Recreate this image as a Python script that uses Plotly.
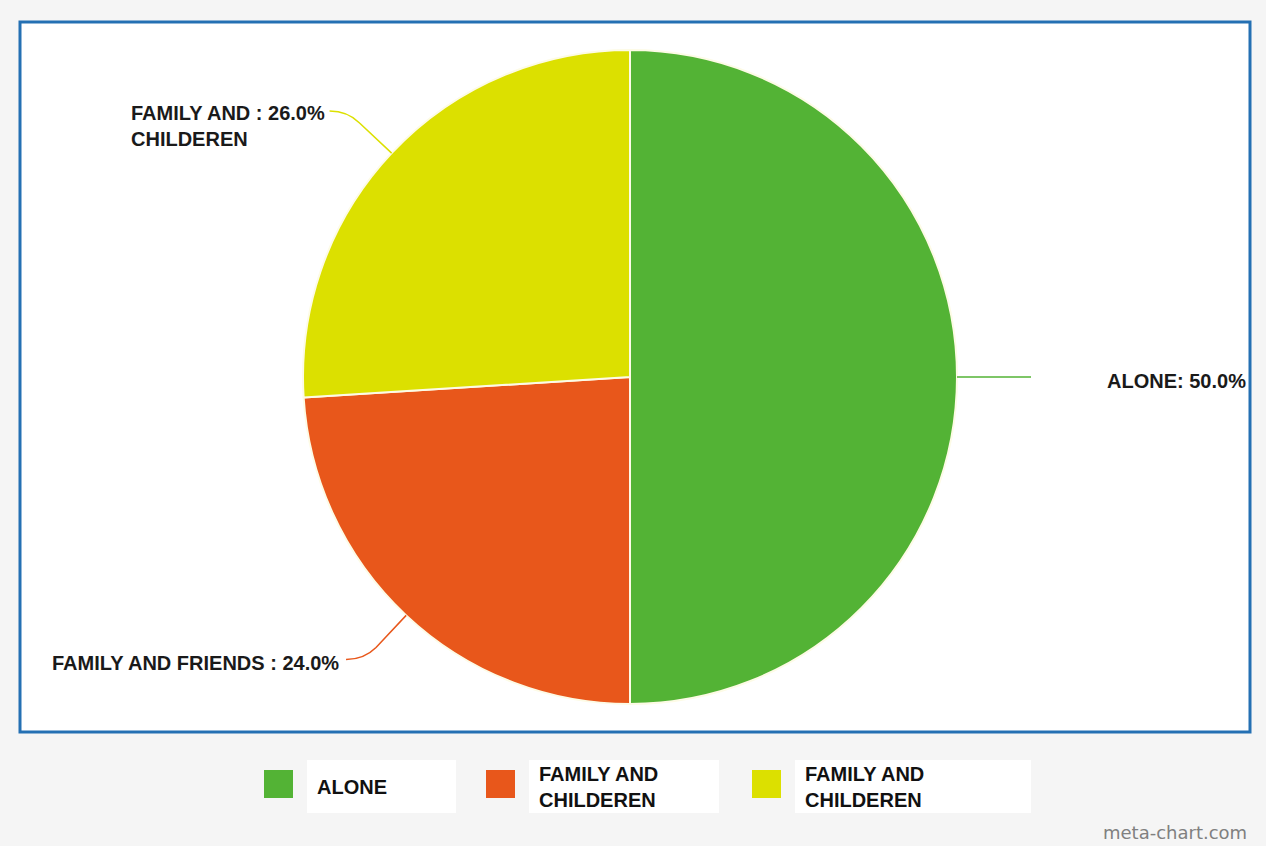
import math
import plotly.graph_objects as go

# Slice data (clockwise from 12 o'clock)
labels = ["ALONE", "FAMILY AND FRIENDS", "FAMILY AND<br>CHILDEREN"]
values = [50.0, 24.0, 26.0]
colors = ["#53b335", "#e8571b", "#dce000"]
legend_labels = ["ALONE", "FAMILY AND<br>CHILDEREN", "FAMILY AND<br>CHILDEREN"]

W, H = 1266, 846
CX, CY, R = 630, 377, 327          # pie centre and radius in pixels


def px(x):
    return x / W


def py(y):
    return 1 - y / H


fig = go.Figure()
fig.add_trace(go.Pie(
    labels=labels,
    values=values,
    marker=dict(colors=colors, line=dict(color="#fdfbe6", width=2)),
    sort=False,
    direction="clockwise",
    rotation=0,
    textinfo="none",
    hoverinfo="label+percent",
    showlegend=False,
    domain=dict(x=[px(CX - R), px(CX + R)], y=[py(CY + R), py(CY - R)]),
))

shapes = [
    # white chart panel with blue frame
    dict(type="rect", xref="paper", yref="paper", layer="below",
         x0=px(20), x1=px(1250), y0=py(732), y1=py(22),
         fillcolor="white", line=dict(color="#2470b3", width=3)),
]
annotations = []

# leader lines and outside labels, placed from each slice's mid-angle
total = sum(values)
label_gap = [74, 5, 3]
cum = 0.0
for i, v in enumerate(values):
    mid = (cum + v / 2) / total * 2 * math.pi
    cum += v
    dx, dy = math.sin(mid), -math.cos(mid)
    ex, ey = CX + R * dx, CY + R * dy
    bx, by = ex + 44 * dx, ey + 44 * dy
    side = 1 if dx >= 0 else -1
    vdir = 0 if abs(dy) < 1e-6 else (1 if dy > 0 else -1)
    tx, ty = bx + side * 30, by + vdir * 12
    path = (f"M {px(ex)},{py(ey)} L {px(bx)},{py(by)} "
            f"Q {px(bx + side * 12)},{py(ty)} {px(tx)},{py(ty)}")
    shapes.append(dict(type="path", xref="paper", yref="paper", path=path,
                       line=dict(color=colors[i], width=1.5)))
    if i == 0:
        text = f"{labels[i]}: {v:.1f}%"
    elif "<br>" in labels[i]:
        text = labels[i].replace("<br>", f" : {v:.1f}%<br>", 1)
    else:
        text = f"{labels[i]} : {v:.1f}%"
    multi = "<br>" in text
    annotations.append(dict(
        x=px(tx + side * label_gap[i]), y=py(ty - 11 if multi else ty + 4),
        xref="paper", yref="paper", text=f"<b>{text}</b>", showarrow=False,
        xanchor="left" if side > 0 else "right",
        yanchor="top" if multi else "middle", align="left",
        font=dict(family="Liberation Sans", size=20, color="#1a1a1a"),
    ))

# legend drawn below the panel
leg_x = [264, 486, 752]
box_w = [149, 190, 236]
for i, lab in enumerate(legend_labels):
    x0 = leg_x[i]
    shapes.append(dict(type="rect", xref="paper", yref="paper",
                       x0=px(x0 + 43), x1=px(x0 + 43 + box_w[i]),
                       y0=py(813), y1=py(760),
                       fillcolor="white", line=dict(width=0)))
    shapes.append(dict(type="rect", xref="paper", yref="paper",
                       x0=px(x0), x1=px(x0 + 29), y0=py(798), y1=py(770),
                       fillcolor=colors[i], line=dict(width=0)))
    annotations.append(dict(
        x=px(x0 + 51), y=py(787), xref="paper", yref="paper",
        text=f"<b>{lab}</b>", showarrow=False, xanchor="left",
        yanchor="middle", align="left",
        font=dict(family="Liberation Sans", size=20, color="#111111"),
    ))

annotations.append(dict(
    x=px(1249), y=py(832), xref="paper", yref="paper", text="meta-chart.com",
    showarrow=False, xanchor="right", yanchor="middle",
    font=dict(family="DejaVu Sans", size=18, color="#808080"),
))

fig.update_layout(
    width=W, height=H,
    margin=dict(l=0, r=0, t=0, b=0),
    paper_bgcolor="#f5f5f5",
    plot_bgcolor="#f5f5f5",
    shapes=shapes,
    annotations=annotations,
)

fig.write_html("out.html")
